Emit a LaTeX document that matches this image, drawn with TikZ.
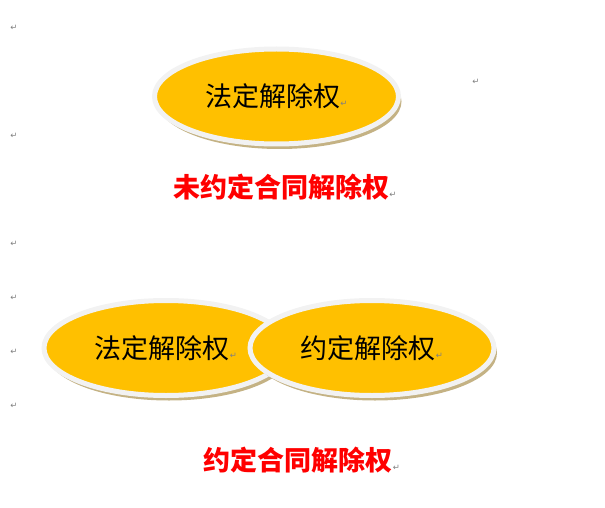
\documentclass[tikz,border=0pt]{standalone}
\usepackage{fontspec}
\newfontfamily\cjk{Noto Sans CJK SC}
\newfontfamily\symf{DejaVu Sans}
\usetikzlibrary{shapes.geometric,shadows}
\definecolor{gold}{HTML}{FFC000}
\definecolor{shade}{HTML}{C4B284}
\definecolor{rim}{HTML}{F2F2F2}
\definecolor{mk}{HTML}{808080}
\tikzset{
  oval/.style={ellipse, fill=gold, draw=rim, line width=5pt, inner sep=0pt,
    minimum width=244pt, minimum height=95pt,
    drop shadow={shadow xshift=3pt, shadow yshift=-5pt, fill=shade, opacity=1},
    font=\cjk\fontsize{27}{30}\selectfont},
  title/.style={text=red, font=\cjk\bfseries\fontsize{27}{30}\selectfont, inner sep=0pt},
  pm/.style={text=mk, font=\symf\fontsize{8.5}{9}\selectfont, inner sep=0pt},
}
\newcommand{\pmk}{{\color{mk}\symf\fontsize{8.5}{9}\selectfont ↵}}
\begin{document}
\begin{tikzpicture}[x=1pt,y=-1pt]
\useasboundingbox (0,0) rectangle (605,508);
% left margin paragraph marks
\node[pm] (m1) at (14,28) {↵};
\node[pm] (m2) at (14,136) {↵};
\node[pm] (m3) at (14,244) {↵};
\node[pm] (m4) at (14,298) {↵};
\node[pm] (m5) at (14,352) {↵};
\node[pm] (m6) at (14,406) {↵};
\node[pm] (m7) at (476,82) {↵};
% top ellipse
\node[oval] (e1) at (276.5,96.5) {法定解除权\pmk};
\node[title] (t1) at (281,187) {未约定合同解除权};
\node[pm, anchor=base west] (p1) at (t1.base east) {↵};
% bottom ellipses
\node[oval] (e2) at (166,348) {法定解除权\pmk};
\node[oval] (e3) at (372,348) {约定解除权\pmk};
\node[title] (t2) at (298,460) {约定合同解除权};
\node[pm, anchor=base west] (p2) at (t2.base east) {↵};
\end{tikzpicture}
\end{document}
